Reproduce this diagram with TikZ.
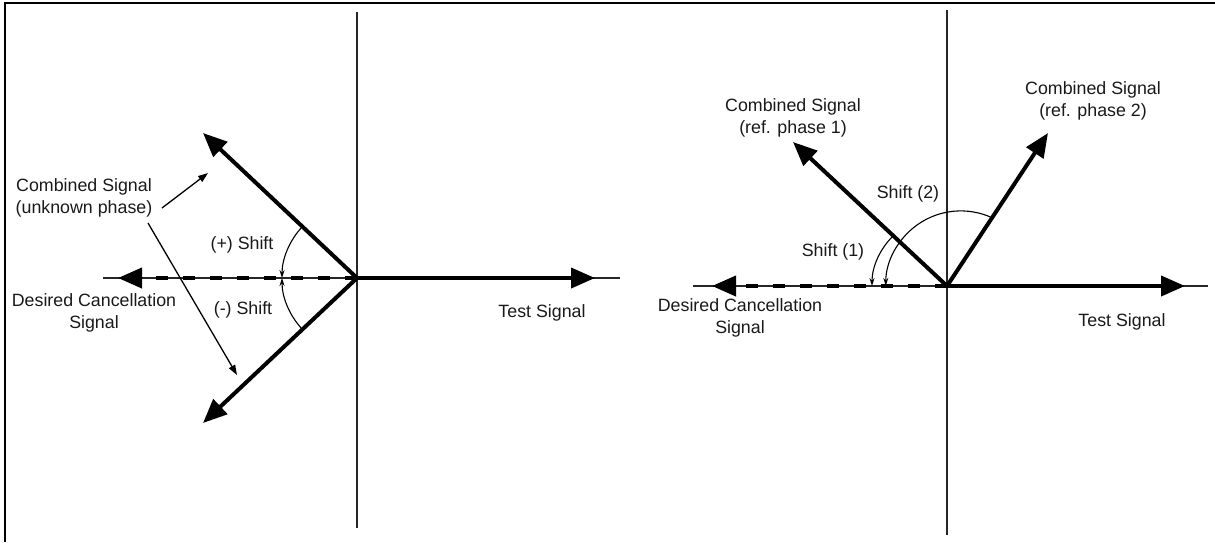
\documentclass[tikz,border=0pt]{standalone}
\usepackage{fontspec}
\setmainfont{Liberation Sans}
\usetikzlibrary{arrows.meta}
\begin{document}
\begin{tikzpicture}[x=1pt,y=-1pt,
  frame/.style={line width=2pt, draw=black},
  axis/.style={line width=1.6pt, draw=black!85},
  vec/.style={line width=4pt, draw=black, -{Triangle[length=24pt,width=20pt]}},
  cancel/.style={vec, dash pattern=on 12pt off 15pt},
  pointer/.style={line width=1.3pt, draw=black, -{Triangle[length=10pt,width=7pt]}},
  shiftarc/.style={line width=1.1pt, draw=black, -{Stealth[length=8pt,width=5pt]}},
  lbl/.style={font=\fontsize{17.8}{21.5}\selectfont, text=black!90, align=center, inner sep=0pt}]
\useasboundingbox (0,0) rectangle (1215,542);

% outer frame (left and top edges)
\draw[frame] (5,542) -- (5,3) -- (1215,3);

% ---------------- left phasor diagram ----------------
\coordinate (O1) at (357,278);
\coordinate (V1t) at (357,12);
\coordinate (V1b) at (357,528);
\coordinate (H1l) at (103,278);
\coordinate (H1r) at (620,278);
\coordinate (T1) at (595,278);
\coordinate (C1) at (118,278);
\coordinate (P1) at (203,133);
\coordinate (M1) at (203,423);

\draw[axis] (V1t) -- (V1b);
\draw[axis] (H1l) -- (H1r);
\draw[vec] (O1) -- (T1);
\draw[cancel] (O1) -- (C1);
\draw[vec] (O1) -- (P1);
\draw[vec] (O1) -- (M1);

% shift arcs
\coordinate (A1p) at (302.4,226.6);
\coordinate (A1m) at (302.4,329.4);
\draw[shiftarc] (A1p) arc[start angle=223.27, end angle=180, radius=75];
\draw[shiftarc] (A1m) arc[start angle=136.73, end angle=180, radius=75];

\node[lbl] (plus) at (242,245) {(+) Shift};
\node[lbl] (minus) at (243,310) {(-) Shift};

\node[lbl] (comb1) at (84,198) {Combined Signal\\(unknown phase)};
\coordinate (q1s) at (162,208);
\coordinate (q1e) at (208,173);
\coordinate (q2s) at (148,223);
\coordinate (q2e) at (237,375);
\draw[pointer] (q1s) -- (q1e);
\draw[pointer] (q2s) -- (q2e);

\node[lbl] (des1) at (94,313) {Desired Cancellation\\Signal};
\node[lbl] (test1) at (542,313) {Test Signal};

% ---------------- right phasor diagram ----------------
\coordinate (O2) at (947,286);
\coordinate (V2t) at (947,10);
\coordinate (V2b) at (947,535);
\coordinate (H2l) at (693,286);
\coordinate (H2r) at (1208,286);
\coordinate (T2) at (1185,286);
\coordinate (C2) at (712,286);
\coordinate (P2a) at (793,142);
\coordinate (P2b) at (1048,133);

\draw[axis] (V2t) -- (V2b);
\draw[axis] (H2l) -- (H2r);
\draw[vec] (O2) -- (T2);
\draw[cancel] (O2) -- (C2);
\draw[vec] (O2) -- (P2a);
\draw[vec] (O2) -- (P2b);

% shift arcs
\coordinate (S1) at (892.5,236.5);
\coordinate (S2) at (992,217.7);
\draw[shiftarc] (S1) arc[start angle=225, end angle=180, radius=70];
\draw[shiftarc] (S2) arc[start angle=294.6, end angle=180, radius=75];

\node[lbl] (sh2) at (908,194) {Shift (2)};
\node[lbl] (sh1) at (833,252) {Shift (1)};

\node[lbl] (comb2) at (793,118) {Combined Signal\\(ref. phase 1)};
\node[lbl] (comb3) at (1093,101) {Combined Signal\\(ref. phase 2)};
\node[lbl] (des2) at (740,318) {Desired Cancellation\\Signal};
\node[lbl] (test2) at (1122,322) {Test Signal};
\end{tikzpicture}
\end{document}
